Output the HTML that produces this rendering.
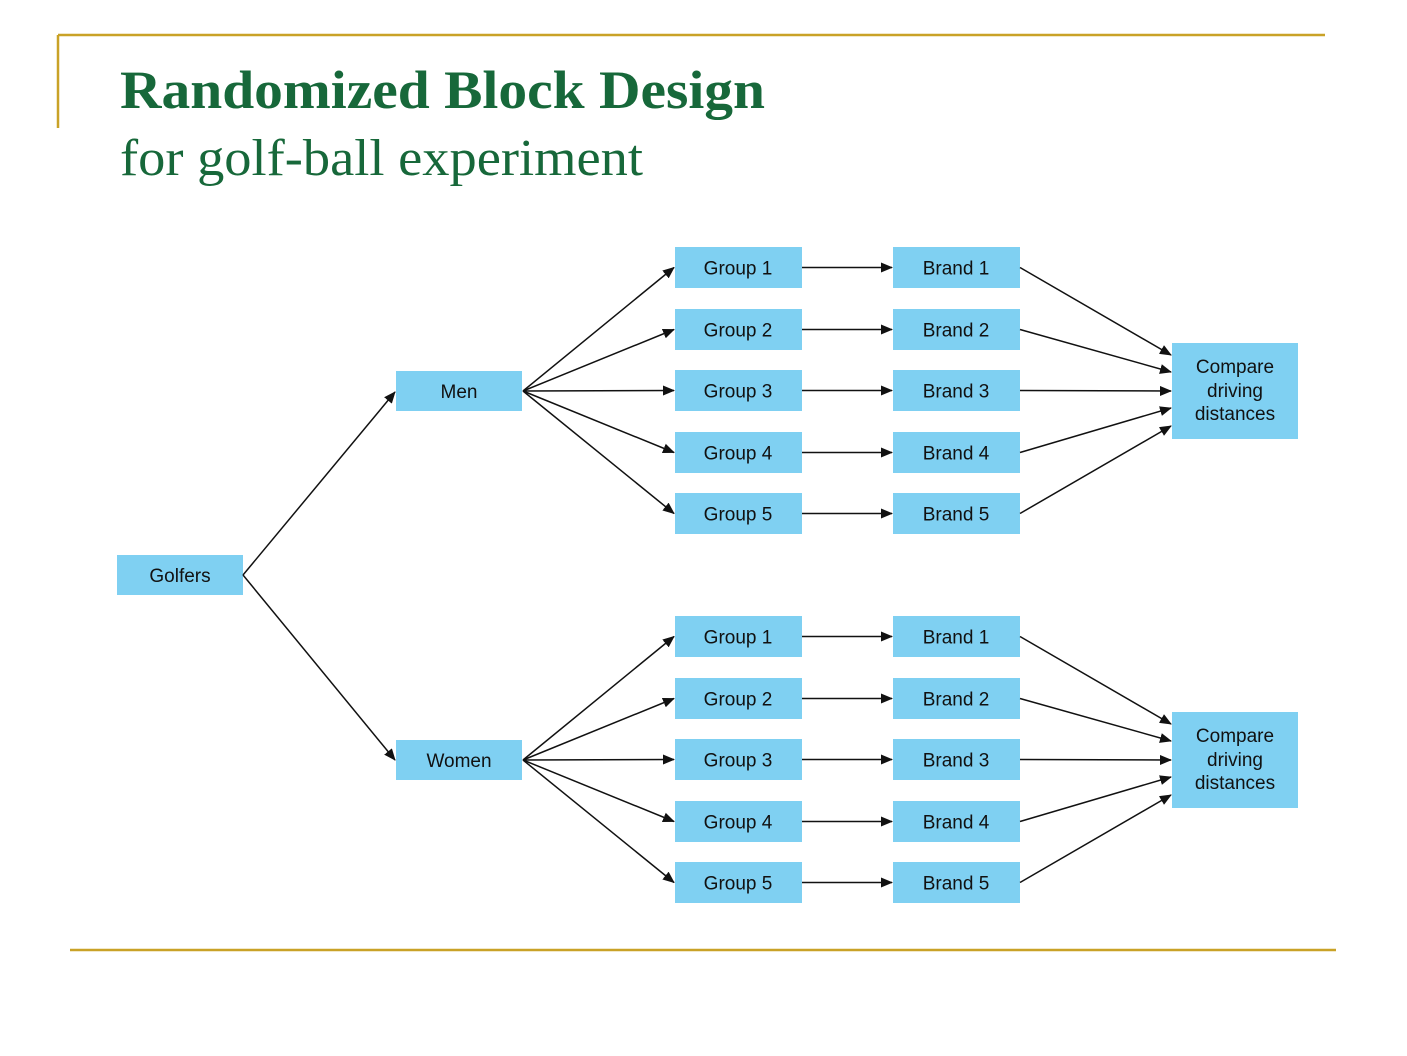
<!DOCTYPE html>
<html><head><style>
html,body{margin:0;padding:0;background:#fff;}
body{width:1407px;height:1056px;position:relative;overflow:hidden;}
svg{position:absolute;left:0;top:0;}
</style></head><body>
<svg width="1407" height="1056" viewBox="0 0 1407 1056" xmlns="http://www.w3.org/2000/svg">
<defs><marker id="a" markerWidth="12" markerHeight="10" refX="11" refY="5" orient="auto" markerUnits="userSpaceOnUse"><path d="M0,0 L12,5 L0,10 z" fill="#111"/></marker></defs>
<line x1="58" y1="35" x2="1325" y2="35" stroke="#c9a227" stroke-width="2.5"/>
<line x1="58" y1="35" x2="58" y2="128" stroke="#c9a227" stroke-width="2.5"/>
<line x1="70" y1="950" x2="1336" y2="950" stroke="#c9a227" stroke-width="2.5"/>
<text x="120" y="108" font-family="Liberation Serif, serif" font-weight="bold" font-size="54" fill="#17683a" textLength="645" lengthAdjust="spacingAndGlyphs">Randomized Block Design</text>
<text x="120" y="175" font-family="Liberation Serif, serif" font-size="52" fill="#17683a" textLength="523" lengthAdjust="spacingAndGlyphs">for golf-ball experiment</text>
<g fill="#7fd0f2">
<rect x="117" y="555" width="126" height="40"/>
<rect x="396" y="371" width="126" height="40"/>
<rect x="396" y="740" width="126" height="40"/>
<rect x="1172" y="343" width="126" height="96"/>
<rect x="1172" y="712" width="126" height="96"/>
</g>
<g font-family="Liberation Sans, sans-serif" font-size="19" fill="#111" text-anchor="middle">
<text x="180" y="582">Golfers</text>
<text x="459" y="398">Men</text>
<text x="459" y="767">Women</text>
<text x="1235" y="373">Compare</text><text x="1235" y="397">driving</text><text x="1235" y="420">distances</text>
<text x="1235" y="742">Compare</text><text x="1235" y="766">driving</text><text x="1235" y="789">distances</text>
</g>
<g stroke="#111" stroke-width="1.5" fill="none" marker-end="url(#a)">
<line x1="243" y1="575" x2="395" y2="392"/>
<line x1="243" y1="575" x2="395" y2="760"/>
</g>
<script>
var s=document.querySelector('svg'),ns='http://www.w3.org/2000/svg';
function el(t,a,txt){var e=document.createElementNS(ns,t);for(var k in a)e.setAttribute(k,a[k]);if(txt)e.textContent=txt;s.appendChild(e);return e;}
[[391,[247,309,370,432,493],391],[760,[616,678,739,801,862],760]].forEach(function(b){
 var src=b[0],tops=b[1],cy=b[2];
 var ends=[cy-36,cy-19,cy,cy+17,cy+35];
 tops.forEach(function(t,i){
  var m=t+20.5;
  el('rect',{x:675,y:t,width:127,height:41,fill:'#7fd0f2'});
  el('rect',{x:893,y:t,width:127,height:41,fill:'#7fd0f2'});
  el('text',{x:738,y:m+7,'font-family':'Liberation Sans, sans-serif','font-size':19,fill:'#111','text-anchor':'middle'},'Group '+(i+1));
  el('text',{x:956,y:m+7,'font-family':'Liberation Sans, sans-serif','font-size':19,fill:'#111','text-anchor':'middle'},'Brand '+(i+1));
  el('line',{x1:523,y1:src,x2:674,y2:m,stroke:'#111','stroke-width':1.5,'marker-end':'url(#a)'});
  el('line',{x1:802,y1:m,x2:892,y2:m,stroke:'#111','stroke-width':1.5,'marker-end':'url(#a)'});
  el('line',{x1:1020,y1:m,x2:1171,y2:ends[i],stroke:'#111','stroke-width':1.5,'marker-end':'url(#a)'});
 });
});
</script>
</svg>
</body></html>
